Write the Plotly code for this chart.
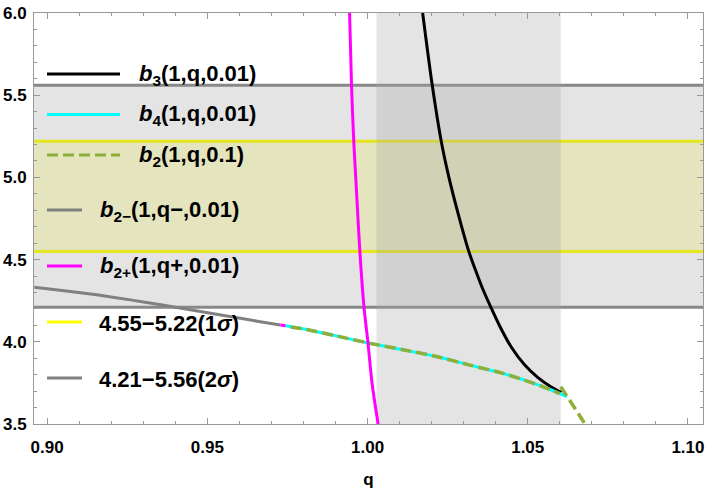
import plotly.graph_objects as go

# ---- data ----
# lower branch pieces
q_b2m = [0.896, 0.906, 0.916, 0.926, 0.936, 0.946, 0.956, 0.966, 0.9728]
b_b2m = [4.332, 4.309, 4.284, 4.255, 4.224, 4.191, 4.157, 4.124, 4.102]

q_b2p_low = [0.9728, 0.9744]
b_b2p_low = [4.102, 4.097]

q_b2p = [0.9944, 0.9950, 0.9957, 0.9966, 0.9976, 0.9989, 1.0001, 1.0014, 1.0025, 1.0033]
b_b2p = [6.0, 5.56, 5.22, 4.90, 4.55, 4.21, 4.00, 3.75, 3.60, 3.50]

q_b4 = [0.9744, 0.9801, 0.990, 0.9999, 1.011, 1.0218, 1.032, 1.0426, 1.0478, 1.055, 1.0622]
b_b4 = [4.097, 4.078, 4.037, 3.994, 3.952, 3.909, 3.858, 3.806, 3.774, 3.725, 3.667]

q_b2 = [0.976, 0.9801, 0.990, 0.9999, 1.011, 1.0218, 1.032, 1.0426, 1.0478, 1.055, 1.0600]
b_b2 = [4.090, 4.078, 4.037, 3.994, 3.952, 3.909, 3.858, 3.806, 3.774, 3.725, 3.684]
q_b2_tail = [1.0603, 1.0629, 1.0681]
b_b2_tail = [3.727, 3.646, 3.494]

q_b3 = [1.0172, 1.0202, 1.0230, 1.0254, 1.0280, 1.0316, 1.0340, 1.0361, 1.0385, 1.0414,
        1.0448, 1.0490, 1.0531, 1.0572, 1.0605]
b_b3 = [6.0, 5.56, 5.22, 5.0, 4.8, 4.55, 4.42, 4.315, 4.21, 4.09,
        3.97, 3.86, 3.784, 3.727, 3.692]

sig1 = [4.55, 5.22]
sig2 = [4.21, 5.56]
q_band = [1.0028, 1.0603]

FONT = "Liberation Sans"
W, H = 711, 492
L, R, T, B = 34, 8, 13, 68


def px(x):
    return (x - L) / (W - L - R)


def py(y):
    return (H - B - y) / (H - T - B)


fig = go.Figure()

smooth = dict(shape="spline", smoothing=0.8)
fig.add_trace(go.Scatter(x=q_b3, y=b_b3, mode="lines", line=dict(color="black", width=3, **smooth)))
fig.add_trace(go.Scatter(x=q_b4, y=b_b4, mode="lines", line=dict(color="#00ffff", width=3, **smooth)))
fig.add_trace(go.Scatter(x=q_b2, y=b_b2, mode="lines",
                         line=dict(color="#8fae3a", width=3.5, dash="11px,5px", **smooth)))
fig.add_trace(go.Scatter(x=q_b2_tail, y=b_b2_tail, mode="lines",
                         line=dict(color="#8fae3a", width=3.5, dash="11px,5px")))
fig.add_trace(go.Scatter(x=q_b2m, y=b_b2m, mode="lines", line=dict(color="#808080", width=3, **smooth)))
fig.add_trace(go.Scatter(x=q_b2p_low, y=b_b2p_low, mode="lines", line=dict(color="#ff00ff", width=3)))
fig.add_trace(go.Scatter(x=q_b2p, y=b_b2p, mode="lines", line=dict(color="#ff00ff", width=3, **smooth)))

shapes = [
    # 2 sigma band, 1 sigma band
    dict(type="rect", xref="x domain", x0=0, x1=1, yref="y", y0=sig2[0], y1=sig2[1],
         fillcolor="#e4e4e4", line=dict(width=0), layer="below"),
    dict(type="rect", xref="x domain", x0=0, x1=1, yref="y", y0=sig1[0], y1=sig1[1],
         fillcolor="#e4e4be", line=dict(width=0), layer="below"),
]
for v in sig2:
    shapes.append(dict(type="line", xref="x domain", x0=0, x1=1, yref="y", y0=v, y1=v,
                       line=dict(color="#888888", width=3), layer="below"))
for v in sig1:
    shapes.append(dict(type="line", xref="x domain", x0=0, x1=1, yref="y", y0=v, y1=v,
                       line=dict(color="#e6e61c", width=3), layer="below"))
# vertical q band
shapes.append(dict(type="rect", xref="x", x0=q_band[0], x1=q_band[1], yref="y domain", y0=0, y1=1,
                   fillcolor="rgba(164,164,164,0.3)", line=dict(width=0), layer="below"))

# hand-made legend (two groups, different sample lengths)
legend_items = [
    ("<i>b</i><sub>3</sub>(1,q,0.01)", "black", "solid", 74, 120, 137),
    ("<i>b</i><sub>4</sub>(1,q,0.01)", "#00ffff", "solid", 114.5, 120, 137),
    ("<i>b</i><sub>2</sub>(1,q,0.1)", "#8fae3a", "11px,5px", 155, 120, 137),
    ("<i>b</i><sub>2−</sub>(1,q−,0.01)", "#808080", "solid", 210, 82, 98),
    ("<i>b</i><sub>2+</sub>(1,q+,0.01)", "#ff00ff", "solid", 266, 82, 98),
    ("4.55−5.22(1<i>σ</i>)", "#ffff00", "solid", 322, 82, 97),
    ("4.21−5.56(2<i>σ</i>)", "#808080", "solid", 378, 82, 97),
]
annotations = []
for text, col, dash, ypix, x1pix, txpix in legend_items:
    shapes.append(dict(type="line", xref="paper", yref="paper", x0=px(47), x1=px(x1pix),
                       y0=py(ypix), y1=py(ypix), line=dict(color=col, width=3, dash=dash),
                       layer="above"))
    annotations.append(dict(xref="paper", yref="paper", x=px(txpix), y=py(ypix + 1),
                            xanchor="left", yanchor="middle", showarrow=False,
                            text="<b>" + text + "</b>",
                            font=dict(family=FONT, size=22, color="black")))

fig.update_layout(
    width=W, height=H,
    margin=dict(l=L, r=R, t=T, b=B),
    plot_bgcolor="white", paper_bgcolor="white",
    showlegend=False,
    shapes=shapes,
    annotations=annotations,
    font=dict(family=FONT, color="black"),
)
fig.update_xaxes(
    range=[0.8959, 1.1047], tick0=0.9, dtick=0.05, tickformat=".2f",
    ticks="inside", ticklen=6, tickcolor="#999999", mirror="allticks",
    showline=True, linecolor="#999999", linewidth=1, showgrid=False, zeroline=False,
    minor=dict(dtick=0.01, ticks="inside", ticklen=3, tickcolor="#999999", showgrid=False),
    tickfont=dict(family=FONT, size=17, weight="bold"),
    ticklabelstandoff=8, automargin=False,
    title=dict(text="<b>q</b>", font=dict(family=FONT, size=17), standoff=16),
)
fig.update_yaxes(
    range=[3.5, 6.0], tick0=3.5, dtick=0.5, tickformat=".1f",
    ticks="inside", ticklen=6, tickcolor="#999999", mirror="allticks",
    showline=True, linecolor="#999999", linewidth=1, showgrid=False, zeroline=False,
    minor=dict(dtick=0.1, ticks="inside", ticklen=3, tickcolor="#999999", showgrid=False),
    tickfont=dict(family=FONT, size=17, weight="bold"),
    ticklabelstandoff=3, automargin=False,
)

# the page's default body margin would shift the figure by 8px
fig.write_html("out.html", config={"displayModeBar": False},
               post_script="document.body.style.margin='0';")
